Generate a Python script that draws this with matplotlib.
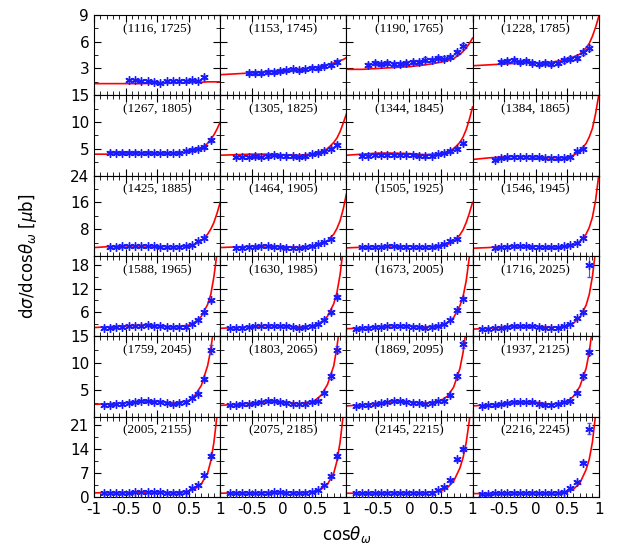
import numpy as np
import matplotlib.pyplot as plt

titles = ["(1116, 1725)", "(1153, 1745)", "(1190, 1765)", "(1228, 1785)",
          "(1267, 1805)", "(1305, 1825)", "(1344, 1845)", "(1384, 1865)",
          "(1425, 1885)", "(1464, 1905)", "(1505, 1925)", "(1546, 1945)",
          "(1588, 1965)", "(1630, 1985)", "(1673, 2005)", "(1716, 2025)",
          "(1759, 2045)", "(1803, 2065)", "(1869, 2095)", "(1937, 2125)",
          "(2005, 2155)", "(2075, 2185)", "(2145, 2215)", "(2216, 2245)"]

# measured points at cos = -0.85 ... 0.85 (step 0.1), None = no data
cos_pts = [-0.85, -0.75, -0.65, -0.55, -0.45, -0.35, -0.25, -0.15, -0.05,
           0.05, 0.15, 0.25, 0.35, 0.45, 0.55, 0.65, 0.75, 0.85]
N = None
pts = [
    [N, N, N, N, 1.7, 1.7, 1.6, 1.6, 1.5, 1.4, 1.55, 1.6, 1.6, 1.6, 1.65, 1.6, 2.0, N],
    [N, N, N, 2.5, 2.5, 2.5, 2.6, 2.6, 2.7, 2.8, 2.9, 2.8, 2.9, 3.1, 3.0, 3.3, 3.4, 3.7],
    [N, N, 3.4, 3.6, 3.5, 3.6, 3.5, 3.5, 3.6, 3.7, 3.7, 4.0, 3.9, 4.2, 4.1, 4.3, 4.8, 5.5],
    [N, N, N, 3.7, 3.8, 3.9, 3.7, 3.8, 3.6, 3.5, 3.6, 3.5, 3.6, 3.9, 4.1, 4.2, 4.8, 5.3],
    [N, 4.3, 4.3, 4.3, 4.3, 4.3, 4.2, 4.3, 4.2, 4.2, 4.2, 4.2, 4.3, 4.6, 4.8, 5.0, 5.3, 6.6],
    [N, 3.5, 3.5, 3.5, 3.6, 3.5, 3.6, 3.8, 3.7, 3.6, 3.6, 3.5, 3.6, 4.0, 4.3, 4.5, 5.0, 5.8],
    [N, 3.7, 3.7, 3.8, 3.8, 3.9, 3.9, 3.8, 3.8, 3.8, 3.7, 3.6, 3.7, 4.0, 4.2, 4.5, 5.0, 6.0],
    [N, N, 3.0, 3.3, 3.4, 3.5, 3.5, 3.5, 3.4, 3.4, 3.3, 3.3, 3.2, 3.3, 3.5, 4.5, 5.0, N],
    [N, 2.7, 2.8, 2.9, 3.0, 3.0, 3.0, 2.9, 2.9, 2.8, 2.7, 2.7, 2.8, 2.9, 3.2, 4.5, 5.5, N],
    [N, 2.4, 2.5, 2.6, 2.7, 3.0, 2.9, 2.8, 2.6, 2.5, 2.4, 2.5, 2.8, 3.0, 3.5, 4.2, 5.0, N],
    [N, 2.6, 2.6, 2.7, 2.8, 3.0, 2.9, 2.8, 2.7, 2.6, 2.6, 2.7, 2.8, 3.0, 3.5, 4.5, 5.0, N],
    [N, N, 2.5, 2.6, 2.8, 2.9, 3.0, 2.9, 2.8, 2.7, 2.6, 2.6, 2.7, 2.9, 3.2, 4.0, 5.5, N],
    [2.2, 2.2, 2.3, 2.4, 2.5, 2.7, 2.7, 2.8, 2.7, 2.6, 2.4, 2.3, 2.3, 2.4, 3.0, 4.0, 6.0, 9.0],
    [2.0, 2.1, 2.2, 2.3, 2.5, 2.6, 2.7, 2.7, 2.6, 2.5, 2.3, 2.2, 2.3, 2.5, 3.0, 4.0, 6.0, 9.8],
    [1.9, 2.0, 2.1, 2.3, 2.4, 2.6, 2.7, 2.7, 2.6, 2.4, 2.3, 2.2, 2.3, 2.6, 3.0, 4.0, 6.5, 9.5],
    [1.8, 1.9, 2.0, 2.2, 2.3, 2.5, 2.6, 2.6, 2.5, 2.3, 2.2, 2.1, 2.2, 2.5, 3.0, 4.5, 6.0, 18.0],
    [2.2, 2.2, 2.3, 2.4, 2.6, 2.8, 2.9, 2.9, 2.8, 2.7, 2.5, 2.4, 2.5, 2.8, 3.5, 4.3, 7.0, 12.5],
    [2.1, 2.2, 2.3, 2.4, 2.6, 2.7, 2.9, 2.9, 2.8, 2.6, 2.4, 2.3, 2.4, 2.7, 3.0, 4.5, 7.5, 12.5],
    [2.0, 2.1, 2.2, 2.3, 2.6, 2.8, 2.9, 2.9, 2.8, 2.6, 2.5, 2.4, 2.5, 2.9, 3.0, 4.0, 7.5, 13.5],
    [2.0, 2.1, 2.2, 2.3, 2.5, 2.7, 2.8, 2.8, 2.7, 2.4, 2.2, 2.2, 2.4, 2.8, 3.0, 4.5, 7.5, 12.0],
    [1.2, 1.3, 1.3, 1.3, 1.3, 1.4, 1.4, 1.4, 1.4, 1.4, 1.3, 1.3, 1.3, 1.6, 2.5, 3.5, 6.5, 12.0],
    [1.1, 1.2, 1.2, 1.2, 1.2, 1.3, 1.3, 1.4, 1.4, 1.3, 1.3, 1.2, 1.3, 1.5, 2.0, 3.5, 6.0, 12.0],
    [1.1, 1.1, 1.2, 1.2, 1.2, 1.3, 1.3, 1.3, 1.3, 1.2, 1.2, 1.2, 1.3, 2.0, 3.0, 5.0, 11.0, 14.0],
    [1.0, 1.0, 1.1, 1.1, 1.1, 1.2, 1.2, 1.2, 1.2, 1.1, 1.1, 1.1, 1.2, 1.5, 2.5, 4.5, 10.0, 20.0],
]
big_err = {15: 3.0, 16: 0.8, 17: 0.6, 18: 0.6, 19: 0.5, 23: 1.5}

# fitted curves at these cos values
cos_fit = [-1.0, -0.75, -0.5, -0.25, 0.0, 0.25, 0.5, 0.6, 0.7, 0.8, 0.85, 0.9, 0.95, 1.0]
fits = [
    [1.3, 1.3, 1.3, 1.3, 1.35, 1.4, 1.4, 1.45, 1.45, 1.5, 1.5, 1.5, 1.5, 1.5],
    [2.3, 2.4, 2.5, 2.6, 2.75, 2.9, 3.1, 3.3, 3.4, 3.6, 3.8, 3.9, 4.0, 4.2],
    [2.9, 2.9, 3.0, 3.1, 3.2, 3.4, 3.7, 3.9, 4.1, 4.6, 4.9, 5.3, 5.8, 6.4],
    [3.3, 3.4, 3.5, 3.6, 3.6, 3.7, 4.0, 4.3, 4.6, 5.3, 5.8, 6.6, 7.6, 8.8],
    [4.0, 4.0, 4.1, 4.1, 4.1, 4.1, 4.4, 4.7, 5.1, 6.0, 6.8, 7.6, 8.7, 10.0],
    [3.8, 3.9, 4.0, 4.0, 3.9, 3.8, 4.1, 4.5, 5.0, 6.2, 7.0, 8.2, 9.8, 11.5],
    [3.8, 4.0, 4.2, 4.2, 4.1, 3.9, 4.1, 4.5, 5.0, 6.2, 7.2, 8.6, 10.5, 12.8],
    [3.0, 3.3, 3.5, 3.6, 3.5, 3.3, 3.4, 3.8, 4.5, 6.0, 7.2, 8.8, 11.5, 15.0],
    [2.5, 2.8, 3.0, 3.0, 2.9, 2.7, 3.0, 3.5, 4.5, 6.5, 8.0, 10.0, 12.8, 16.0],
    [2.5, 2.7, 2.9, 3.0, 2.8, 2.6, 2.9, 3.4, 4.5, 6.5, 8.2, 10.5, 14.0, 18.5],
    [2.4, 2.6, 2.8, 3.0, 2.9, 2.7, 2.9, 3.4, 4.3, 6.3, 7.8, 10.0, 12.8, 16.0],
    [2.3, 2.5, 2.8, 3.0, 2.9, 2.6, 2.8, 3.3, 4.3, 6.5, 8.5, 11.5, 16.5, 24.0],
    [2.2, 2.4, 2.6, 2.8, 2.7, 2.3, 2.8, 3.6, 5.0, 8.0, 10.5, 15.0, 21.0, 30.0],
    [2.0, 2.2, 2.5, 2.7, 2.6, 2.3, 2.8, 3.6, 5.0, 8.2, 11.0, 15.5, 22.0, 30.0],
    [1.9, 2.1, 2.4, 2.7, 2.6, 2.3, 2.7, 3.4, 4.7, 7.7, 10.0, 14.0, 20.0, 28.0],
    [1.8, 2.0, 2.3, 2.6, 2.5, 2.2, 2.6, 3.3, 4.7, 7.8, 10.5, 15.0, 21.5, 30.0],
    [2.3, 2.4, 2.6, 2.9, 2.9, 2.5, 3.0, 4.0, 5.8, 9.5, 12.5, 17.0, 23.0, 30.0],
    [2.1, 2.3, 2.5, 2.8, 2.8, 2.4, 3.0, 4.0, 6.0, 9.5, 13.0, 17.5, 24.0, 32.0],
    [2.0, 2.2, 2.5, 2.8, 2.8, 2.5, 3.0, 3.8, 5.5, 9.0, 12.0, 16.5, 22.0, 30.0],
    [2.0, 2.2, 2.4, 2.7, 2.7, 2.3, 2.8, 3.8, 5.6, 9.0, 12.0, 16.5, 22.5, 30.0],
    [1.2, 1.3, 1.3, 1.4, 1.4, 1.3, 1.7, 2.4, 3.8, 7.0, 10.5, 16.0, 24.0, 35.0],
    [1.1, 1.2, 1.2, 1.3, 1.4, 1.3, 1.6, 2.3, 3.7, 7.0, 10.5, 16.0, 24.0, 35.0],
    [1.1, 1.1, 1.2, 1.3, 1.3, 1.2, 1.8, 2.7, 4.6, 8.5, 11.5, 16.0, 22.5, 32.0],
    [1.0, 1.0, 1.1, 1.2, 1.2, 1.1, 1.5, 2.3, 4.0, 8.0, 11.0, 16.0, 24.0, 35.0],
]

row_ylim = [9, 15, 24, 20.2, 15, 23.5]
row_ticks = [[3, 6, 9], [5, 10, 15], [8, 16, 24], [6, 12, 18], [5, 10, 15], [0, 7, 14, 21]]
row_minor = [1.5, 2.5, 4, 3, 2.5, 3.5]

fig, axes = plt.subplots(6, 4, figsize=(6.23, 5.51), dpi=100)
fig.subplots_adjust(left=0.151, right=0.961, top=0.973, bottom=0.098, hspace=0, wspace=0)

for i, ax in enumerate(axes.flat):
    r, c = divmod(i, 4)
    y = np.array([np.nan if v is None else v for v in pts[i]], dtype=float)
    err = np.where(np.isnan(y), np.nan, 0.04 * y + 0.08)
    if i in big_err:
        err[-1] = big_err[i]
    ax.plot(cos_fit, fits[i], color="red", lw=1.2, zorder=2)
    ax.errorbar(cos_pts, y, xerr=0.03, yerr=err, fmt="none", ecolor="#4d4dff",
                elinewidth=0.8, capsize=1.5, zorder=3)
    ax.plot(cos_pts, y, ls="none", marker=(6, 2, 0), color="#1a1aff", ms=6,
            mew=1.0, zorder=4)
    ax.set_xlim(-1, 1)
    ax.set_ylim(0, row_ylim[r])
    ax.set_yticks(row_ticks[r])
    ax.yaxis.set_minor_locator(plt.MultipleLocator(row_minor[r]))
    ax.set_xticks([-1, -0.5, 0, 0.5, 1])
    ax.xaxis.set_minor_locator(plt.MultipleLocator(0.1))
    ax.tick_params(which="both", direction="in", top=True, right=True, labelsize=11)
    ax.tick_params(which="major", length=5)
    ax.tick_params(which="minor", length=3)
    if c > 0:
        ax.tick_params(labelleft=False)
    if r == 5:
        if c == 0:
            ax.set_xticklabels(["-1", "-0.5", "0", "0.5", "1"])
        else:
            ax.set_xticklabels(["", "-0.5", "0", "0.5", "1"])
    else:
        ax.tick_params(labelbottom=False)
    ax.text(0.5, 0.9, titles[i], transform=ax.transAxes, ha="center", va="top",
            fontsize=9.5, family="Liberation Serif")

fig.text(0.045, 0.535, r"d$\sigma$/dcos$\theta_\omega$ [$\mu$b]", rotation=90,
         ha="center", va="center", fontsize=12)
fig.text(0.556, 0.03, r"cos$\theta_\omega$", ha="center", va="center", fontsize=12)

fig.savefig("out.png", dpi=100)
